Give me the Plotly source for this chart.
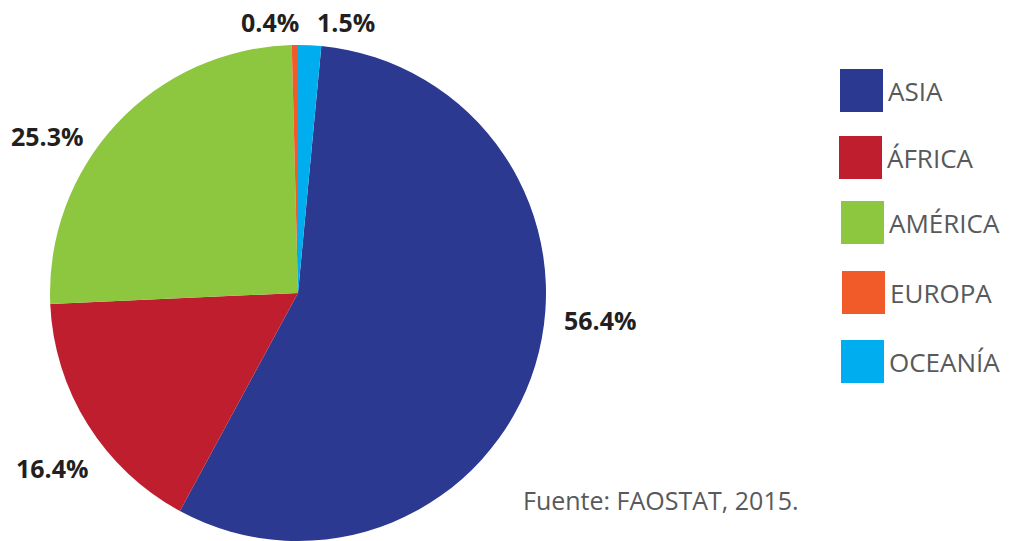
import plotly.graph_objects as go

# Data
regions = ["ASIA", "ÁFRICA", "AMÉRICA", "EUROPA", "OCEANÍA"]
shares = [56.4, 16.4, 25.3, 0.4, 1.5]
pct_labels = ["56.4%", "16.4%", "25.3%", "0.4%", "1.5%"]
colors = ["#2b3990", "#be1e2d", "#8dc63f", "#f15a29", "#00aeef"]
source_text = "Fuente: FAOSTAT, 2015."

W, H = 1009, 541

def px(x):
    return x / W

def py(y):
    return 1 - y / H

fig = go.Figure()
fig.add_trace(go.Pie(
    labels=regions,
    values=shares,
    marker=dict(colors=colors, line=dict(width=0)),
    sort=False,
    direction="clockwise",
    rotation=shares[-1] / 100 * 360,
    textinfo="none",
    hoverinfo="label+percent",
    showlegend=False,
    domain=dict(x=[px(50), px(546)], y=[0, py(45)]),
))

# percentage label positions (pixel centers)
label_pos = [(600, 320), (52, 468), (47, 136), (270, 22), (346, 22)]
annotations = []
for txt, (x, y) in zip(pct_labels, label_pos):
    annotations.append(dict(
        text=f"<b>{txt}</b>", x=px(x), y=py(y), xref="paper", yref="paper",
        showarrow=False, xanchor="center", yanchor="middle",
        font=dict(family="Open Sans", size=25, color="#231f20"),
    ))

# legend
shapes = []
leg_top = [69, 136, 201, 271, 340]
leg_left = [840, 839, 841, 842, 841]
for name, col, t, l in zip(regions, colors, leg_top, leg_left):
    shapes.append(dict(type="rect", xref="paper", yref="paper",
                       x0=px(l), x1=px(l + 43), y0=py(t + 43), y1=py(t),
                       fillcolor=col, line=dict(width=0)))
    annotations.append(dict(
        text=name, x=px(l + 46), y=py(t + 22), xref="paper", yref="paper",
        showarrow=False, xanchor="left", yanchor="middle",
        font=dict(family="Open Sans", size=26, color="#58595b"),
    ))

annotations.append(dict(
    text=source_text, x=px(521), y=py(500), xref="paper", yref="paper",
    showarrow=False, xanchor="left", yanchor="middle",
    font=dict(family="Open Sans", size=25, color="#58595b"),
))

fig.update_layout(
    width=W, height=H,
    margin=dict(l=0, r=0, t=0, b=0),
    paper_bgcolor="white",
    plot_bgcolor="white",
    annotations=annotations,
    shapes=shapes,
)

fig.write_html("out.html", config={"displayModeBar": False},
               post_script="document.body.style.margin='0';")
